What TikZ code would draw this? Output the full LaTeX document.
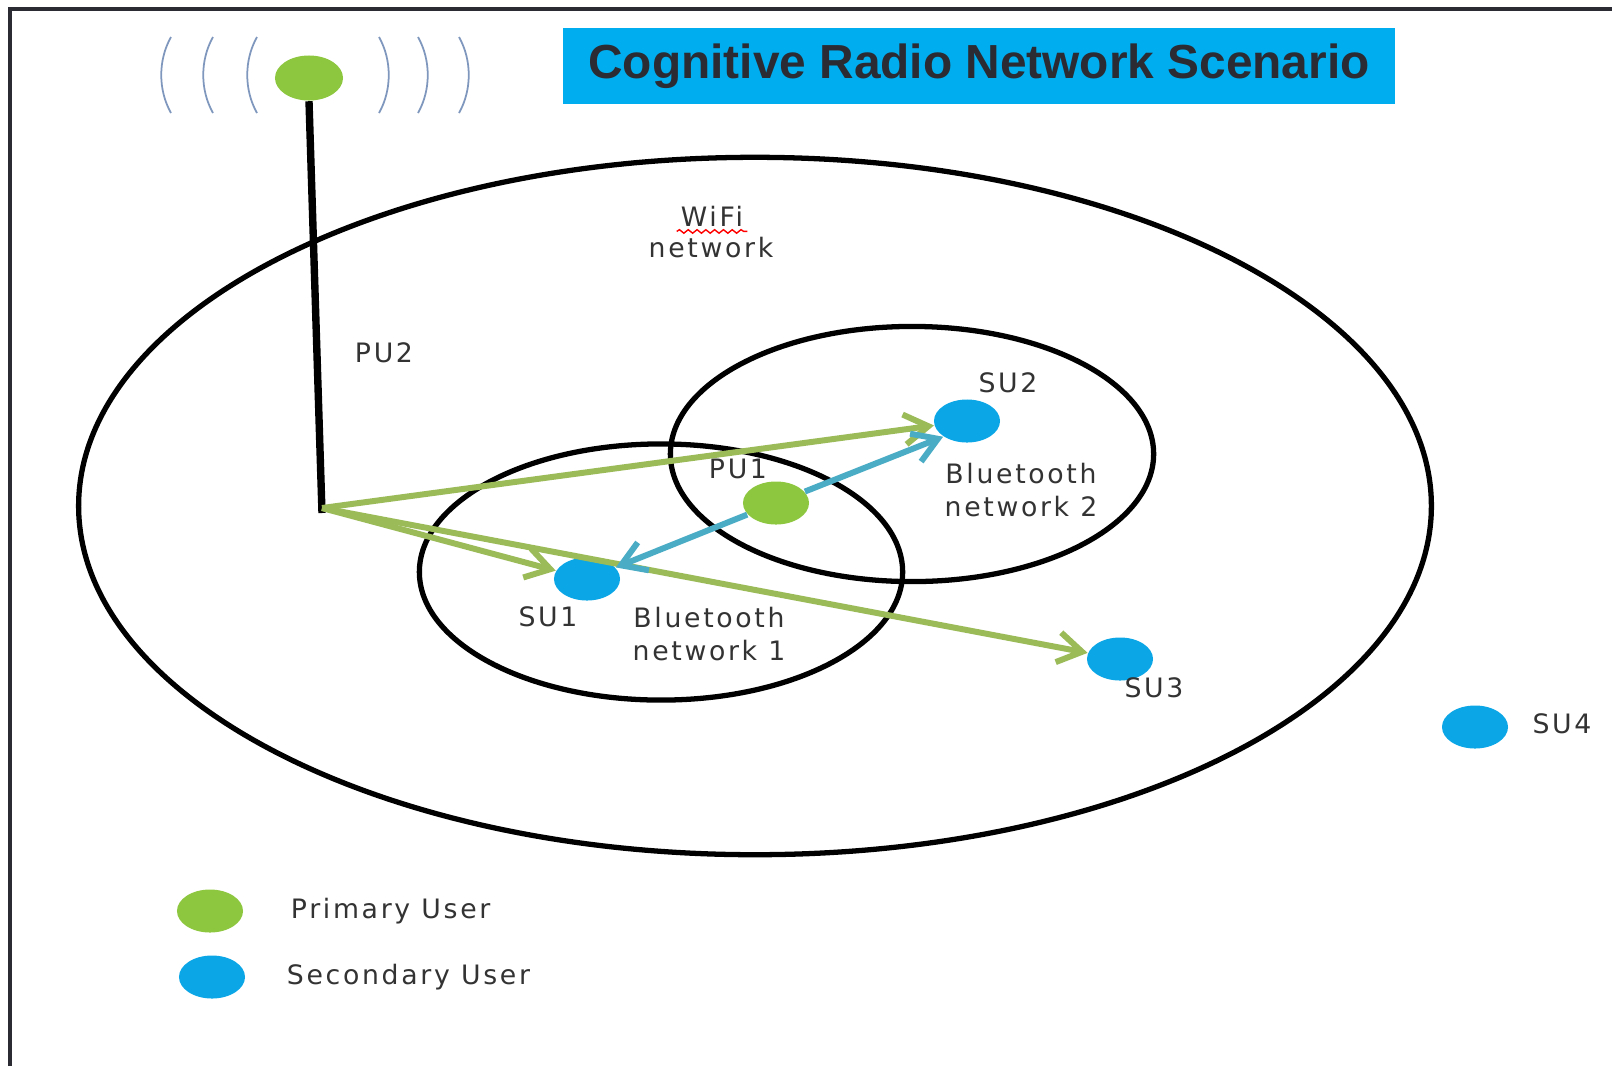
\documentclass[tikz,border=0pt]{standalone}
\usepackage{fontspec}
\setmainfont{DejaVu Sans}
\newfontfamily\lblfont[LetterSpace=10]{DejaVu Sans}
\newfontfamily\titlefont{Liberation Sans}
\usepackage{tikz}
\usetikzlibrary{positioning,arrows.meta,shapes.geometric,decorations.pathmorphing}
\definecolor{PUgreen}{HTML}{8DC63F}
\definecolor{SUblue}{HTML}{0AA6E6}
\definecolor{ARRgreen}{HTML}{9BBB59}
\definecolor{ARRblue}{HTML}{4BACC6}
\definecolor{TITLEcyan}{HTML}{00AEEF}
\definecolor{INKgray}{HTML}{2B2B33}
\definecolor{WAVEgray}{HTML}{7F97BD}
\tikzset{
  pu/.style={ellipse,fill=PUgreen,minimum width=6.6mm,minimum height=4.3mm,inner sep=0pt},
  su/.style={ellipse,fill=SUblue,minimum width=6.6mm,minimum height=4.3mm,inner sep=0pt},
  region/.style={ellipse,draw,line width=1.5pt,inner sep=0pt},
  lbl/.style={font=\lblfont\fontsize{7.6}{9.4}\selectfont,text=black!80,inner sep=1pt,align=center},
  garr/.style={-{Straight Barb[length=2.4mm,width=3mm]},ARRgreen,line width=1.7pt},
  barr/.style={-{Straight Barb[length=2.4mm,width=3mm]},ARRblue,line width=1.7pt},
}

\begin{document}
\begin{tikzpicture}[x=0.01cm,y=-0.01cm]
\useasboundingbox (0,0) rectangle (1612,1066);
\draw[INKgray,line width=1.2pt] (10,1066) -- (10,9) -- (1612,9);
\node[fill=TITLEcyan,minimum width=8.31cm,minimum height=7.6mm,text=INKgray,
  font=\titlefont\bfseries\fontsize{13.6}{16}\selectfont] (title) at (979,66) {Cognitive Radio Network Scenario};

% networks
\node[region,minimum width=13.52cm,minimum height=6.97cm] (wifi) at (755,506) {};
\node[region,minimum width=4.83cm,minimum height=2.55cm] (bt2) at (912,454) {};
\node[region,minimum width=4.83cm,minimum height=2.56cm] (bt1) at (661,572) {};

% antenna of PU2
\node[pu,minimum width=6.8mm,minimum height=4.5mm] (pu2) at (309,78) {};
\foreach \x in {161,203,247}
  \draw[WAVEgray,line width=0.5pt] (\x+10,37) .. controls (\x-3,60) and (\x-3,90) .. (\x+10,113);
\foreach \x in {389,428,469}
  \draw[WAVEgray,line width=0.5pt] (\x-10,37) .. controls (\x+3,60) and (\x+3,90) .. (\x-10,113);
\coordinate (pu2base) at (322,508);
\draw[line width=2.1pt] (pu2.south) -- (322,513);

% users
\node[pu] (pu1) at (776,503) {};
\node[su] (su1) at (587,579) {};
\node[su] (su2) at (967,421) {};
\node[su] (su3) at (1120,659) {};
\node[su] (su4) at (1475,727) {};

% labels
\node[lbl] (wifilbl) at (712,216) {WiFi};
\node[lbl] (wifinet) at (711,248) {network};
\draw[red,line width=0.4pt,decorate,decoration={snake,amplitude=0.5pt,segment length=2.5pt}]
  ([yshift=-1.5pt]wifilbl.base west) -- ([yshift=-1.5pt]wifilbl.base east);
\node[lbl] (pu2lbl) at (384,353) {PU2};
\node[lbl] (pu1lbl) at (738,469) {PU1};
\node[lbl] (su2lbl) at (1008,383) {SU2};
\node[lbl] (bt2lbl) at (1021,490) {Bluetooth\\network 2};
\node[lbl] (su1lbl) at (548,617) {SU1};
\node[lbl] (bt1lbl) at (709,634) {Bluetooth\\network 1};
\node[lbl] (su3lbl) at (1154,688) {SU3};
\node[lbl] (su4lbl) at (1562,724) {SU4};

% links
\draw[garr] (pu2base) -- (su2);
\draw[garr] (pu2base) -- (su1);
\draw[garr] (pu2base) -- (su3);
\draw[barr] (pu1) -- (su1);
\draw[barr] (pu1) -- (su2.south west);

% legend
\node[pu] (legpu) at (210,911) {};
\node[su] (legsu) at (212,977) {};
\node[lbl,right=4.3mm of legpu] (legpulbl) {Primary User};
\node[lbl,right=3.7mm of legsu] (legsulbl) {Secondary User};
\end{tikzpicture}
\end{document}
